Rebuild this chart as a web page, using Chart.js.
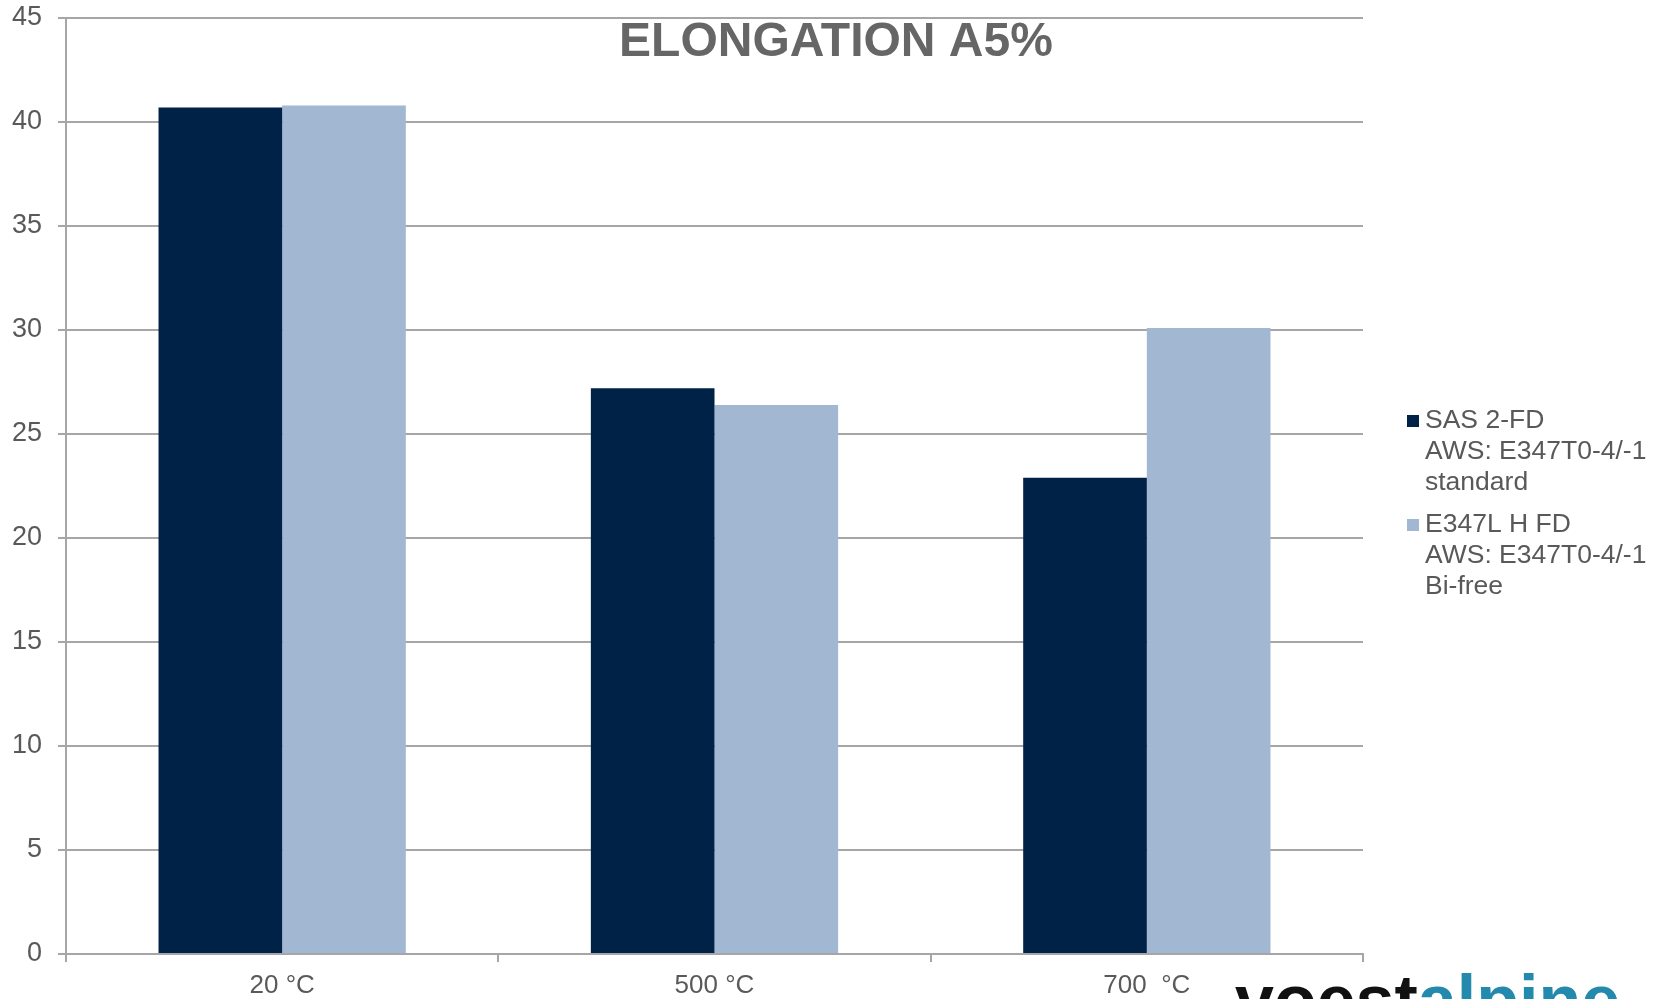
<!DOCTYPE html>
<html>
<head>
<meta charset="utf-8">
<script src="https://cdn.jsdelivr.net/npm/chart.js@4/dist/chart.umd.min.js"></script>
<style>
  body { margin: 0; background: #fff; }
  .chart-box { width: 1657px; height: 999px; position: relative; }
</style>
</head>
<body>
<div class="chart-box"><canvas id="elongation"></canvas></div>
<script>
const categories = ['20 °C', '500 °C', '700  °C'];
const sasValues = [40.7, 27.2, 22.9];
const e347Values = [40.8, 26.4, 30.1];
const sasLabel = ['SAS 2-FD', 'AWS: E347T0-4/-1', 'standard'];
const e347Label = ['E347L H FD', 'AWS: E347T0-4/-1', 'Bi-free'];
const chartTitle = 'ELONGATION A5%';

const gridGray = '#a6a6a6';
const textGray = '#595959';
const fontFamily = '"Liberation Sans", Arial, sans-serif';

// title sits inside the plot, so it is drawn by hand instead of the title plugin
const titlePlugin = {
  id: 'insideTitle',
  afterDraw(chart) {
    const { ctx } = chart;
    ctx.save();
    ctx.font = `bold 48px ${fontFamily}`;
    ctx.fillStyle = '#666666';
    ctx.textAlign = 'center';
    ctx.textBaseline = 'alphabetic';
    ctx.fillText(chartTitle, 836, 56);
    ctx.restore();
  },
};

// legend on the right with three-line labels
const sideLegend = {
  id: 'sideLegend',
  afterDraw(chart) {
    const { ctx } = chart;
    const x = chart.chartArea.right + 44;
    let y = 421;
    ctx.save();
    ctx.font = `26.5px ${fontFamily}`;
    ctx.textBaseline = 'middle';
    ctx.textAlign = 'left';
    chart.data.datasets.forEach((ds) => {
      ctx.fillStyle = ds.backgroundColor;
      ctx.fillRect(x, y - 6, 12, 12);
      ctx.fillStyle = textGray;
      ds.label.forEach((line, i) => {
        ctx.fillText(line, x + 18, y + i * 31);
      });
      y += ds.label.length * 31 + 11;
    });
    ctx.restore();
  },
};

// company logo, cut off at the bottom edge
const logoPlugin = {
  id: 'logo',
  afterDraw(chart) {
    const { ctx } = chart;
    ctx.save();
    ctx.font = `bold 70px ${fontFamily}`;
    ctx.textBaseline = 'alphabetic';
    ctx.textAlign = 'left';
    ctx.fillStyle = '#111111';
    ctx.fillText('voest', 1235, 1024);
    const w = ctx.measureText('voest').width;
    ctx.fillStyle = '#2389ad';
    ctx.fillText('alpine', 1235 + w, 1024);
    ctx.restore();
  },
};

const data = {
  labels: categories,
  datasets: [
    {
      label: sasLabel,
      data: sasValues,
      backgroundColor: '#012247',
      categoryPercentage: 0.572,
      barPercentage: 1.0,
    },
    {
      label: e347Label,
      data: e347Values,
      backgroundColor: '#a2b7d2',
      categoryPercentage: 0.572,
      barPercentage: 1.0,
    },
  ],
};

const config = {
  type: 'bar',
  data,
  options: {
    responsive: true,
    maintainAspectRatio: false,
    animation: false,
    layout: { padding: { left: 0, right: 294, top: 0, bottom: 0 } },
    plugins: {
      legend: { display: false },
      title: { display: false },
      tooltip: { enabled: false },
    },
    scales: {
      x: {
        grid: {
          drawOnChartArea: false,
          drawTicks: true,
          tickLength: 8,
          color: gridGray,
          lineWidth: 2,
        },
        border: { color: gridGray, width: 2 },
        ticks: {
          color: textGray,
          font: { size: 26, family: fontFamily, lineHeight: 1 },
          padding: 11,
        },
        afterFit: (scale) => { scale.height = 45; },
      },
      y: {
        min: 0,
        max: 45,
        grid: {
          color: gridGray,
          lineWidth: 2,
          tickLength: 8,
        },
        border: { color: gridGray, width: 2 },
        ticks: {
          stepSize: 5,
          color: textGray,
          // small lineHeight keeps the top label from pushing the plot down
          font: { size: 27, family: fontFamily, lineHeight: 0.15 },
          padding: 16,
        },
        afterFit: (scale) => { scale.width = 66; },
      },
    },
  },
  plugins: [titlePlugin, sideLegend, logoPlugin],
};

new Chart(document.getElementById('elongation'), config);
</script>
</body>
</html>
